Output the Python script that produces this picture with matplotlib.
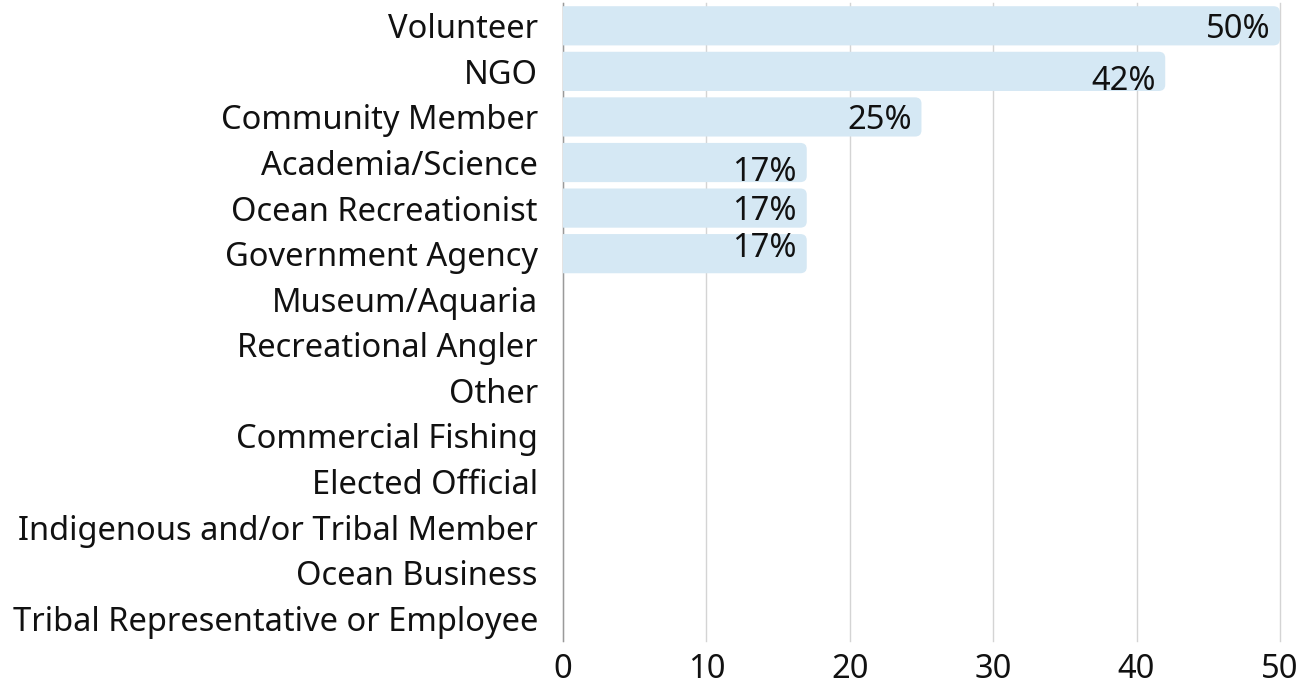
import matplotlib.pyplot as plt
from matplotlib.patches import FancyBboxPatch

categories = [
    "Volunteer", "NGO", "Community Member", "Academia/Science",
    "Ocean Recreationist", "Government Agency", "Museum/Aquaria",
    "Recreational Angler", "Other", "Commercial Fishing", "Elected Official",
    "Indigenous and/or Tribal Member", "Ocean Business",
    "Tribal Representative or Employee",
]
values = [50, 42, 25, 17, 17, 17, 0, 0, 0, 0, 0, 0, 0, 0]
# small vertical nudges (points) of the value labels, as in the original
label_dy = [0, -4.5, 0, -5, 0, 6.5, 0, 0, 0, 0, 0, 0, 0, 0]

plt.rcParams["font.family"] = ["Noto Sans", "DejaVu Sans"]
FS = 23.5

fig = plt.figure(figsize=(13.16, 6.86), dpi=100)
ax = fig.add_axes([0.4278, 0.0656, 0.5448, 0.93])

n = len(categories)
ypos = list(range(n))
bar_h = 0.86
bar_color = "#d5e8f4"

ax.set_xlim(0, 50)
ax.set_ylim(n - 0.5, -0.5)

for y, v, dy in zip(ypos, values, label_dy):
    if v <= 0:
        continue
    patch = FancyBboxPatch((-2, y - bar_h / 2), v + 2, bar_h,
                           boxstyle="round,pad=0,rounding_size=0.45",
                           mutation_aspect=0.3,
                           facecolor=bar_color, edgecolor="none",
                           zorder=2, clip_on=True)
    ax.add_patch(patch)
    ax.annotate(f"{v}%", xy=(v, y), xytext=(-7, dy - 2.5),
                textcoords="offset points", ha="right", va="center",
                fontsize=FS, color="#111111", zorder=3)

ax.set_yticks(ypos)
ax.set_yticklabels(categories, fontsize=FS, color="#111111")
ax.tick_params(axis="y", length=0, pad=18)

ax.set_xticks([0, 10, 20, 30, 40, 50])
ax.tick_params(axis="x", length=0, pad=9, labelsize=FS, labelcolor="#111111")
ax.grid(axis="x", color="#d4d4d4", linewidth=1, zorder=1)
for gl in ax.get_xgridlines():
    gl.set_clip_on(False)
ax.set_axisbelow(True)

for side in ["top", "right", "bottom"]:
    ax.spines[side].set_visible(False)
ax.spines["left"].set_color("#9a9a9a")
ax.spines["left"].set_linewidth(1)
ax.spines["left"].set_zorder(1.5)

fig.savefig("out.png", dpi=100)
